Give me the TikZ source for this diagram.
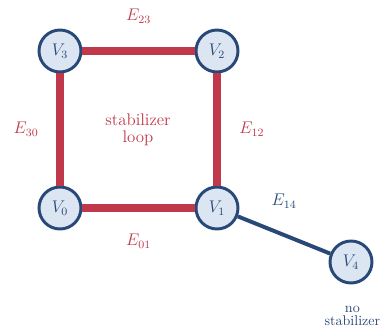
\documentclass[tikz,border=0pt]{standalone}
\usepackage{xcolor}
\definecolor{loopred}{RGB}{192,57,75}
\definecolor{nodeblue}{RGB}{40,72,120}
\definecolor{nodefill}{RGB}{220,230,242}
\begin{document}
\begin{tikzpicture}[font=\fontsize{12}{14.4}\selectfont,
    vertex/.style={circle, draw=nodeblue, line width=2.1pt, fill=nodefill,
        minimum size=1.05cm, inner sep=0pt, text=nodeblue},
    loopedge/.style={line width=5pt, loopred},
    freeedge/.style={line width=2.8pt, nodeblue}]

    % khung hình
    \useasboundingbox (-1.5, -3.175) rectangle (8.025, 5.2);

    % 1. Các đỉnh
    \node[vertex] (v0) at (0, 0) {$V_0$};
    \node[vertex] (v1) at (3.925, 0) {$V_1$};
    \node[vertex] (v2) at (3.925, 3.925) {$V_2$};
    \node[vertex] (v3) at (0, 3.925) {$V_3$};
    \node[vertex] (v4) at (7.275, -1.35) {$V_4$};

    % 2. Các cạnh của vòng ổn định
    \draw[loopedge] (v0) -- node[midway, yshift=-0.83cm, text=loopred] (e01) {$E_{01}$} (v1);
    \draw[loopedge] (v1) -- node[midway, xshift=0.87cm, text=loopred] (e12) {$E_{12}$} (v2);
    \draw[loopedge] (v2) -- node[midway, yshift=0.87cm, text=loopred] (e23) {$E_{23}$} (v3);
    \draw[loopedge] (v3) -- node[midway, xshift=-0.85cm, text=loopred] (e30) {$E_{30}$} (v0);

    % 3. Cạnh tự do
    \draw[freeedge] (v1) -- node[midway, yshift=0.85cm, text=nodeblue] (e14) {$E_{14}$} (v4);

    % 4. Chú thích
    \node[text=loopred, align=center] (loop) at (1.95, 1.95) {stabilizer\\[-2pt]loop};
    \node[text=nodeblue, align=center, font=\fontsize{10}{11}\selectfont]
        (nostab) at (7.31, -2.7) {no\\[-2pt]stabilizer};

\end{tikzpicture}
\end{document}
